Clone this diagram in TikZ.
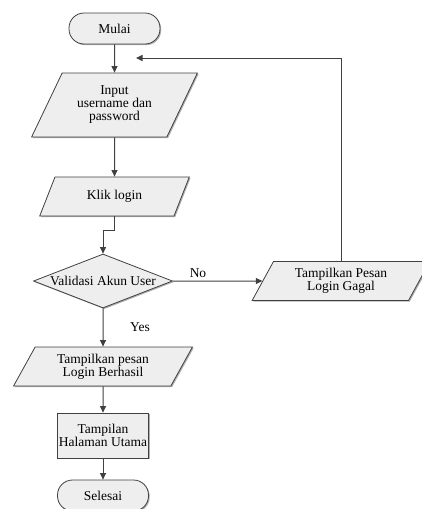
\documentclass[tikz,border=0pt]{standalone}
\usepackage{fontspec}
\setmainfont{Liberation Serif}
\usetikzlibrary{shapes.geometric, arrows.meta, positioning, shadows}
\definecolor{linegray}{RGB}{64, 64, 64}
\definecolor{fillgray}{RGB}{238, 238, 238}
\definecolor{shadegray}{RGB}{175, 175, 175}

\begin{document}
\begin{tikzpicture}[
  x=1pt, y=-1pt,
  base/.style={draw=linegray, fill=fillgray, line width=0.8pt, font=\fontsize{13.5}{13}\selectfont, align=center, inner sep=0pt, drop shadow={shadow xshift=1.2pt, shadow yshift=-1.2pt, fill=shadegray, opacity=1}},
  term/.style={base, rectangle, rounded corners=15pt, minimum width=91pt, minimum height=31pt},
  io/.style={base, trapezium, trapezium left angle=60, trapezium right angle=120, trapezium stretches=true},
  decision/.style={base, diamond, aspect=2.57, minimum width=139pt, minimum height=54pt},
  proc/.style={base, rectangle, minimum width=91pt, minimum height=45pt},
  lbl/.style={font=\fontsize{13.5}{13}\selectfont, inner sep=0pt},
  flow/.style={draw=linegray, line width=1pt, -{Triangle[length=6.5pt, width=6pt]}},
]
  \useasboundingbox (0,0) rectangle (422,509);
  \node[term] (mulai) at (114.5, 28.5) {Mulai};
  \node[io, minimum width=166pt, minimum height=64pt] (input) at (114.5, 105) {Input\\username dan\\password};
  \node[io, minimum width=150pt, minimum height=39pt] (klik) at (114.5, 196.5) {Klik login};
  \node[decision] (valid) at (103, 281) {Validasi Akun User};
  \node[io, minimum width=178pt, minimum height=39pt] (gagal) at (341, 281) {Tampilkan Pesan\\Login Gagal};
  \node[io, minimum width=179pt, minimum height=39pt] (berhasil) at (103, 366.5) {Tampilkan pesan\\Login Berhasil};
  \node[proc] (utama) at (103, 435.5) {Tampilan\\Halaman Utama};
  \node[term] (selesai) at (103, 495.5) {Selesai};
  \node[lbl] (lblno) at (198, 273) {No};
  \node[lbl] (lblyes) at (140, 327) {Yes};
  \coordinate (back) at (136, 58);
  \draw[flow] (mulai.south) -- (input.north);
  \draw[flow] (input.south) -- (klik.north);
  \draw[flow] (klik.south) -- ++(0,14) -| (valid.north);
  \draw[flow] (valid.east) -- (gagal.west);
  \draw[flow] (valid.south) -- (berhasil.north);
  \draw[flow] (berhasil.south) -- (utama.north);
  \draw[flow] (utama.south) -- (selesai.north);
  \draw[flow] (gagal.north) |- (back);
\end{tikzpicture}
\end{document}
